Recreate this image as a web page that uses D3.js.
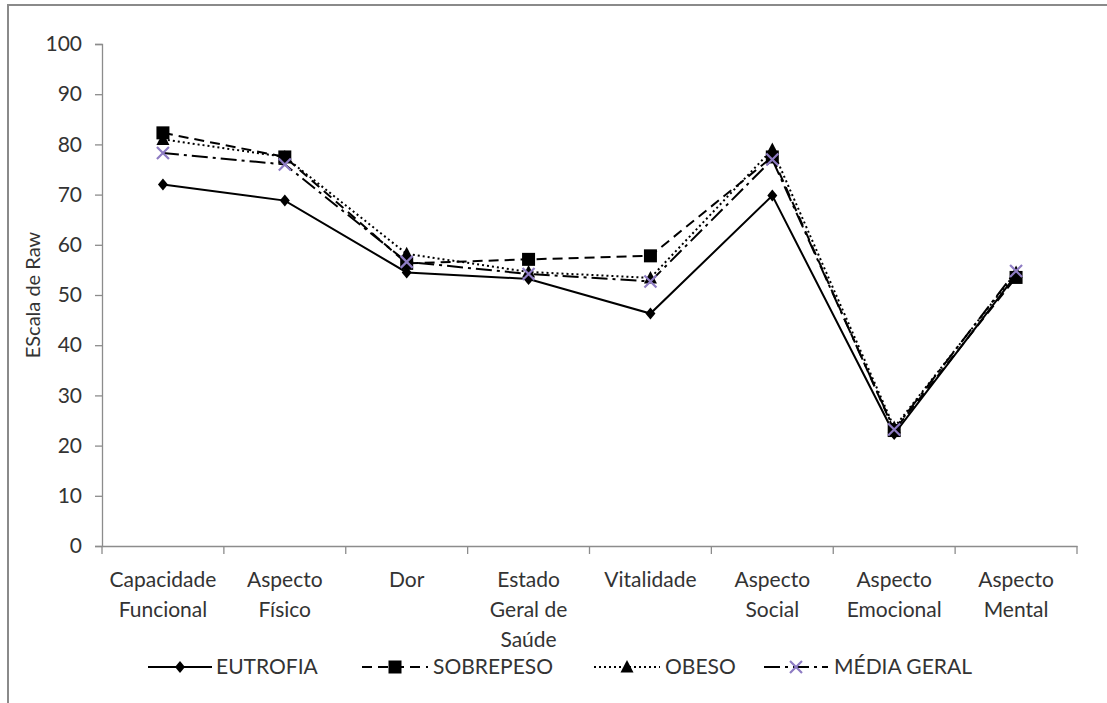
<!DOCTYPE html>
<html>
<head>
<meta charset="utf-8">
<script src="https://cdn.jsdelivr.net/npm/d3@7"></script>
<style>
  html, body { margin: 0; padding: 0; background: #fff; }
  svg { display: block; }
  text { font-family: Lato, "Open Sans", sans-serif; fill: #333; }
</style>
</head>
<body>
<svg id="chart" width="1107" height="703"></svg>
<script>
// Domínios do SF-36
const categories = [
  ["Capacidade", "Funcional"],
  ["Aspecto", "Físico"],
  ["Dor"],
  ["Estado", "Geral de", "Saúde"],
  ["Vitalidade"],
  ["Aspecto", "Social"],
  ["Aspecto", "Emocional"],
  ["Aspecto", "Mental"]
];

// Escores por grupo
const eutrofia   = [72.0, 68.8, 54.5, 53.2, 46.3, 69.8, 22.3, 54.0];
const sobrepeso  = [82.3, 77.5, 56.3, 57.1, 57.8, 77.5, 23.0, 53.5];
const obeso      = [81.0, 77.5, 58.2, 54.6, 53.4, 79.0, 23.6, 54.5];
const mediaGeral = [78.3, 76.0, 56.6, 54.2, 52.7, 77.0, 23.2, 54.8];

const yTicks = [0, 10, 20, 30, 40, 50, 60, 70, 80, 90, 100];

const series = [
  { name: "EUTROFIA",    values: eutrofia,   dash: null,           marker: "diamond" },
  { name: "SOBREPESO",   values: sobrepeso,  dash: "10,6",         marker: "square" },
  { name: "OBESO",       values: obeso,      dash: "2,3",          marker: "triangle" },
  { name: "MÉDIA GERAL", values: mediaGeral, dash: "16,5,3,5",     marker: "cross" }
];

const FONT = 21;
const svg = d3.select("#chart");

// moldura externa
svg.append("rect")
  .attr("x", 8).attr("y", 5)
  .attr("width", 1120).attr("height", 720)
  .attr("fill", "none").attr("stroke", "#8a8a8a").attr("stroke-width", 2);

const mLeft = 102, mRight = 1077, mTop = 44, mBottom = 546;

const x = d3.scaleBand()
  .domain(d3.range(categories.length))
  .range([mLeft, mRight]);

const y = d3.scaleLinear().domain([0, 100]).range([mBottom, mTop]);

// eixo Y
const yAxis = svg.append("g")
  .attr("transform", `translate(${mLeft},0)`)
  .call(d3.axisLeft(y).tickValues(yTicks).tickSize(7).tickPadding(13));
yAxis.select(".domain").attr("stroke", "#8c8c8c").attr("stroke-width", 1.3);
yAxis.selectAll(".tick line").attr("stroke", "#8c8c8c").attr("stroke-width", 1.3);
yAxis.selectAll(".tick text")
  .attr("font-family", "Lato, 'Open Sans', sans-serif")
  .attr("font-size", FONT).attr("fill", "#333");

// eixo X
const xAxis = svg.append("g")
  .attr("transform", `translate(0,${mBottom})`)
  .call(d3.axisBottom(x).tickSize(0).tickFormat(""));
xAxis.select(".domain").attr("stroke", "#8c8c8c").attr("stroke-width", 1.3);

// marcas de divisão entre categorias
const edges = d3.range(categories.length + 1).map(i => mLeft + i * x.step());
svg.append("g").selectAll("line").data(edges).join("line")
  .attr("x1", d => d).attr("x2", d => d)
  .attr("y1", mBottom).attr("y2", mBottom + 8)
  .attr("stroke", "#8c8c8c").attr("stroke-width", 1.3);

// rótulos de categoria
const catG = svg.append("g");
categories.forEach((lines, i) => {
  const t = catG.append("text")
    .attr("x", x(i) + x.bandwidth() / 2)
    .attr("y", 587)
    .attr("text-anchor", "middle")
    .attr("font-size", FONT);
  lines.forEach((ln, j) => {
    t.append("tspan")
      .attr("x", x(i) + x.bandwidth() / 2)
      .attr("dy", j === 0 ? 0 : 30)
      .text(ln);
  });
});

// título do eixo Y
svg.append("text")
  .attr("transform", `translate(40,${(mTop + mBottom) / 2}) rotate(-90)`)
  .attr("text-anchor", "middle")
  .attr("font-size", 20)
  .text("EScala de Raw");

function drawMarker(g, type, cx, cy) {
  if (type === "diamond") {
    g.append("path")
      .attr("d", `M${cx},${cy - 6}L${cx + 5},${cy}L${cx},${cy + 6}L${cx - 5},${cy}Z`)
      .attr("fill", "#000");
  } else if (type === "square") {
    g.append("rect")
      .attr("x", cx - 6.5).attr("y", cy - 6.5)
      .attr("width", 13).attr("height", 13)
      .attr("fill", "#000");
  } else if (type === "triangle") {
    g.append("path")
      .attr("d", `M${cx},${cy - 7}L${cx + 6.5},${cy + 5.5}L${cx - 6.5},${cy + 5.5}Z`)
      .attr("fill", "#000");
  } else if (type === "cross") {
    g.append("path")
      .attr("d", `M${cx - 6},${cy - 6}L${cx + 6},${cy + 6}M${cx - 6},${cy + 6}L${cx + 6},${cy - 6}`)
      .attr("stroke", "#8e7cc3").attr("stroke-width", 2.2).attr("fill", "none");
  }
}

const line = d3.line()
  .x((d, i) => x(i) + x.bandwidth() / 2)
  .y(d => y(d));

const plot = svg.append("g");
series.forEach(s => {
  plot.append("path")
    .datum(s.values)
    .attr("d", line)
    .attr("fill", "none")
    .attr("stroke", "#000")
    .attr("stroke-width", 2)
    .attr("stroke-dasharray", s.dash);
  const mg = plot.append("g");
  s.values.forEach((v, i) => drawMarker(mg, s.marker, x(i) + x.bandwidth() / 2, y(v)));
});

// legenda
const legendItems = [
  { s: series[0], x0: 148, x1: 212, tx: 216 },
  { s: series[1], x0: 362, x1: 428, tx: 433 },
  { s: series[2], x0: 594, x1: 660, tx: 665 },
  { s: series[3], x0: 764, x1: 828, tx: 834 }
];
const lg = svg.append("g");
const ly = 667;
legendItems.forEach(it => {
  lg.append("line")
    .attr("x1", it.x0).attr("x2", it.x1)
    .attr("y1", ly).attr("y2", ly)
    .attr("stroke", "#000").attr("stroke-width", 2)
    .attr("stroke-dasharray", it.s.dash);
  drawMarker(lg, it.s.marker, (it.x0 + it.x1) / 2, ly);
  lg.append("text")
    .attr("x", it.tx).attr("y", ly + 7)
    .attr("font-size", FONT)
    .text(it.s.name);
});
</script>
</body>
</html>
